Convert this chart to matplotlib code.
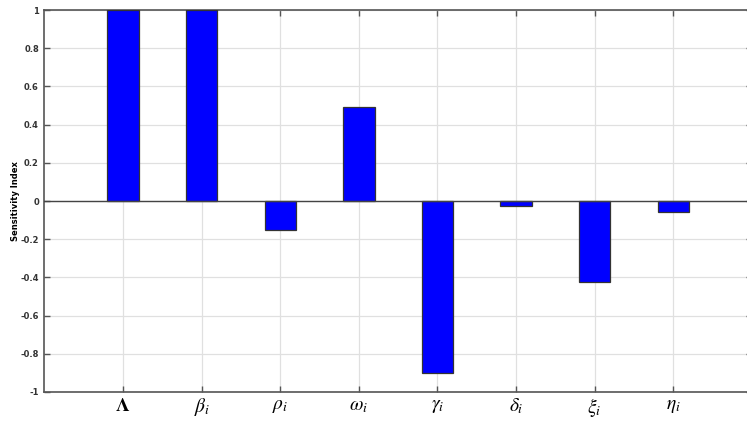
import numpy as np
import matplotlib.pyplot as plt

plt.rcParams['mathtext.fontset'] = 'stix'

# sensitivity indices of R0 w.r.t. each parameter
params = [r'$\mathbf{\Lambda}$', r'$\beta_i$', r'$\rho_i$', r'$\omega_i$',
          r'$\gamma_i$', r'$\delta_i$', r'$\xi_i$', r'$\eta_i$']
index = [1.0, 1.0, -0.152, 0.49, -0.90, -0.024, -0.424, -0.057]
ticks = [1, 0.8, 0.6, 0.4, 0.2, 0, -0.2, -0.4, -0.6, -0.8, -1]

fig = plt.figure(figsize=(7.47, 4.21), dpi=100)
ax = fig.add_axes([0.0595, 0.069, 0.947, 0.907])

x = np.arange(1, len(params) + 1)
ax.bar(x, index, width=0.4, color='#0000ff', edgecolor='#333333',
       linewidth=0.9, zorder=3)
ax.axhline(0, color='#444444', lw=1.0, zorder=4)

ax.set_xlim(0, len(params) + 1)
ax.set_ylim(-1, 1)
ax.set_xticks(x)
ax.set_xticklabels(params, fontsize=14, fontweight='bold')
ax.set_yticks(ticks)
ax.set_yticklabels(['%g' % t for t in ticks], fontsize=6, fontweight='bold',
                   color='#333333')
ax.tick_params(direction='in', top=True, right=True, length=4,
               color='#555555', width=1)
ax.tick_params(axis='x', pad=3)
ax.tick_params(axis='y', pad=4)
ax.grid(True, color='#e0e0e0', lw=0.9, zorder=0)
for s in ax.spines.values():
    s.set_color('#555555')
    s.set_linewidth(1.2)

ax.set_ylabel('Sensitivity Index', fontsize=6, fontweight='bold', labelpad=0)

fig.savefig('out.png', dpi=100)
